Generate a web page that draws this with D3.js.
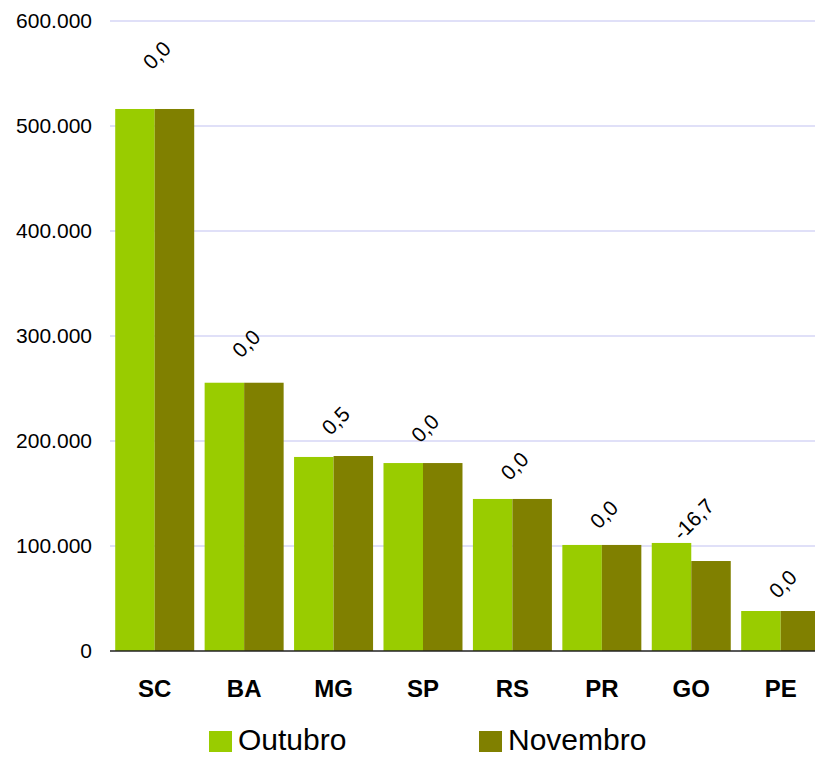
<!DOCTYPE html>
<html><head><meta charset="utf-8">
<script src="https://cdn.jsdelivr.net/npm/d3@7"></script>
<style>html,body{margin:0;padding:0;background:#fff;overflow:hidden}svg{display:block}</style>
</head><body>
<svg id="c" width="815" height="757"></svg>
<script>
const categories = ["SC","BA","MG","SP","RS","PR","GO","PE"];
const outubro  = [516200, 255500, 184800, 179000, 144800, 101000, 102900, 38100];
const novembro = [516200, 255500, 185700, 179000, 144800, 101000, 85700, 38100];
const variacao = ["0,0","0,0","0,5","0,0","0,0","0,0","-16,7","0,0"];
const yTicks = [0,100000,200000,300000,400000,500000,600000];
const seriesNames = ["Outubro","Novembro"];
const colors = ["#99cc00","#808000"];

const svg = d3.select("#c");
const font = "'Liberation Sans', Arial, sans-serif";
const x = d3.scaleBand().domain(categories).range([110, 825.4]).paddingInner(0.1166).paddingOuter(0.0583);
const xs = d3.scaleBand().domain(seriesNames).range([0, x.bandwidth()]);
const y = d3.scaleLinear().domain([0, 600000]).range([651, 21]);
const fmt = v => d3.format(",")(v).replace(/,/g, ".");

// gridlines
svg.append("g").selectAll("line").data(yTicks.filter(d => d > 0)).join("line")
  .attr("x1", 110).attr("x2", 815).attr("y1", d => y(d)).attr("y2", d => y(d))
  .attr("stroke", "#d6d6f6").attr("stroke-width", 1.5);

// y axis labels
const yAxis = d3.axisLeft(y).tickValues(yTicks).tickFormat(fmt).tickSize(0).tickPadding(0);
const ga = svg.append("g").attr("transform", "translate(92,0)").call(yAxis);
ga.select(".domain").remove();
ga.selectAll("text").attr("font-family", font).attr("font-size", 21).attr("fill", "#000");

// bars
const rows = categories.map((c, i) => ({c, vals: [outubro[i], novembro[i]], lab: variacao[i]}));
const grp = svg.append("g").selectAll("g").data(rows).join("g")
  .attr("transform", d => `translate(${x(d.c)},0)`);
grp.selectAll("rect").data(d => d.vals.map((v, k) => ({v, k}))).join("rect")
  .attr("x", d => xs(seriesNames[d.k])).attr("width", xs.bandwidth())
  .attr("y", d => y(d.v)).attr("height", d => y(0) - y(d.v))
  .attr("fill", d => colors[d.k]);

// baseline
svg.append("line").attr("x1", 110).attr("x2", 815).attr("y1", y(0)).attr("y2", y(0))
  .attr("stroke", "#222").attr("stroke-width", 1.5);

// variation labels
grp.append("text")
  .attr("transform", d => {
    const m = Math.max(...d.vals);
    const cy = y(m) - (25 + 0.056 * m / 1000) + (d.lab.length > 3 ? 7 : 0);
    return `translate(${x.bandwidth()/2 + 2},${cy}) rotate(-45)`;
  })
  .attr("text-anchor", "middle").attr("dominant-baseline", "central")
  .attr("font-family", font).attr("font-size", 21).attr("fill", "#000")
  .text(d => d.lab);

// x axis labels
const xAxis = d3.axisBottom(x).tickSize(0).tickPadding(0);
const gx = svg.append("g").attr("transform", "translate(0,680)").call(xAxis);
gx.select(".domain").remove();
gx.selectAll("text").attr("font-family", font).attr("font-size", 24).attr("font-weight", "bold")
  .attr("fill", "#000").attr("dy", "0.72em");

// legend
const lx = [209, 479];
const lg = svg.append("g").selectAll("g").data(seriesNames).join("g")
  .attr("transform", (d, i) => `translate(${lx[i]},731)`);
lg.append("rect").attr("width", 23).attr("height", 21).attr("fill", (d, i) => colors[i]);
lg.append("text").attr("x", 29).attr("y", 19).attr("font-family", font).attr("font-size", 30)
  .attr("fill", "#000").text(d => d);
</script>
</body></html>
